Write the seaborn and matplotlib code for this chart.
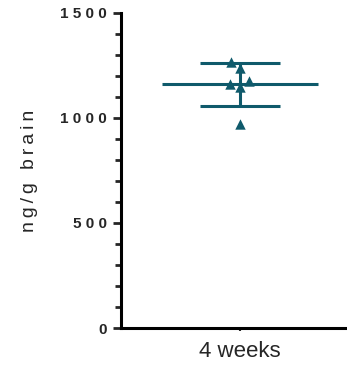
import numpy as np
import pandas as pd
import matplotlib
matplotlib.use("Agg")
import matplotlib.pyplot as plt
import seaborn as sns
from matplotlib.ticker import MultipleLocator

# values
group = ["4 weeks"] * 6
values = [1236, 1265, 1163, 1149, 1178, 971]
y_ticks = [0, 500, 1000, 1500]
y_label = "ng/g brain"
color = "#0f5a6b"

df = pd.DataFrame({"Group": group, "Value": values})

sns.set_style("ticks")
plt.rcParams["font.family"] = ["Liberation Sans", "DejaVu Sans"]

fig = plt.figure(figsize=(3.47, 3.69), dpi=100)
ax = fig.add_axes([0.349, 0.111, 0.651, 0.854])

sns.swarmplot(data=df, x="Group", y="Value", marker="^", size=7.5,
              color=color, ax=ax, zorder=3)

# mean and SD
mean = np.mean(values)
sd = np.std(values, ddof=1)
ax.hlines(mean, -0.33, 0.33, color=color, lw=2.2, zorder=2)
ax.hlines([mean - sd, mean + sd], -0.17, 0.17, color=color, lw=2.2, zorder=2)
ax.vlines(0, mean - sd, mean + sd, color=color, lw=2.2, zorder=2)

ax.set_xlim(-0.5, 0.45)
ax.set_ylim(0, 1500)
ax.set_yticks(y_ticks)
ax.set_yticklabels([" ".join(str(t)) for t in y_ticks],
                   fontweight="bold", fontsize=11)
ax.yaxis.set_minor_locator(MultipleLocator(100))
ax.tick_params(axis="y", which="major", length=6, width=2, pad=4)
ax.tick_params(axis="y", which="minor", length=4, width=2)
ax.tick_params(axis="x", length=2.5, width=1.5, labelsize=16, pad=7)

ax.set_xlabel("")
ax.set_ylabel("\u2009".join(y_label), fontsize=14)
ax.yaxis.set_label_coords(-0.37, 0.5)

sns.despine(ax=ax)
for s in ["left", "bottom"]:
    ax.spines[s].set_linewidth(2.2)
    ax.spines[s].set_color("black")

fig.savefig("out.png", dpi=100)
